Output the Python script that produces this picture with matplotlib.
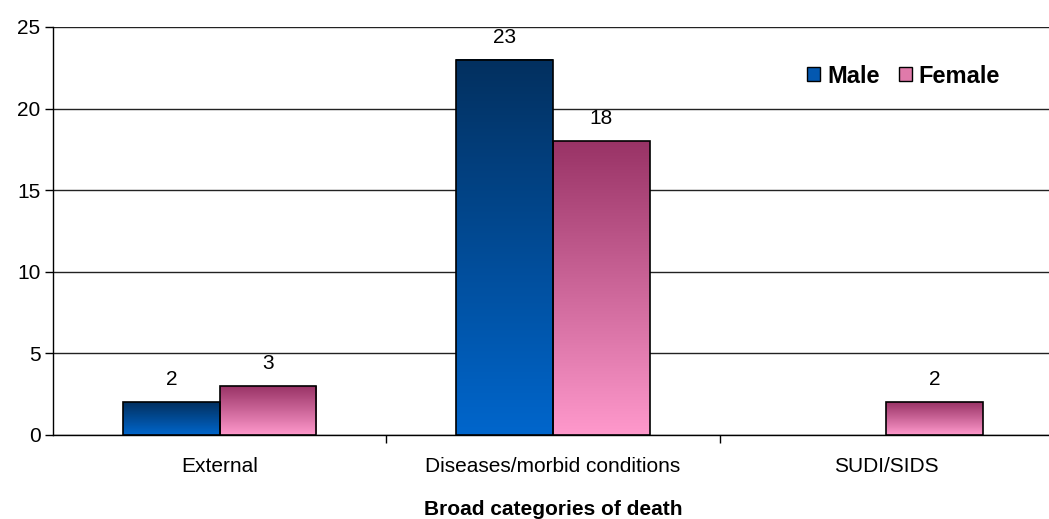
import numpy as np
import matplotlib.pyplot as plt
from matplotlib.colors import LinearSegmentedColormap

plt.rcParams['font.family'] = ['Liberation Sans', 'DejaVu Sans']

# data
categories = ['External', 'Diseases/morbid conditions', 'SUDI/SIDS']
male = [2, 23, 0]
female = [3, 18, 2]
yticks = [0, 5, 10, 15, 20, 25]

# top colour -> bottom colour for each series
male_cols = ('#03305f', '#0066cc')
female_cols = ('#993366', '#ff99cc')

fig = plt.figure(figsize=(10.49, 5.19), dpi=100)
ax = fig.add_axes([53 / 1049, (519 - 435) / 519, 1000 / 1049, 408 / 519])

x = np.arange(len(categories))
w = 0.29


def gradient_bars(xs, vals, cols, label):
    bars = ax.bar(xs, vals, w, color=cols[1], edgecolor='black', linewidth=1.2,
                  label=label, zorder=3)
    cmap = LinearSegmentedColormap.from_list(label, [cols[1], cols[0]])
    grad = np.linspace(0, 1, 256).reshape(-1, 1)
    for b, v in zip(bars, vals):
        if v <= 0:
            b.set_visible(False)
            continue
        x0, y0 = b.get_x(), b.get_y()
        ax.imshow(grad, cmap=cmap, origin='lower', aspect='auto',
                  extent=[x0, x0 + b.get_width(), y0, y0 + b.get_height()],
                  zorder=3.5)
        b.set_facecolor('none')
        b.set_zorder(4)
        ax.text(x0 + b.get_width() / 2, v + 0.8, str(v), ha='center', va='bottom',
                fontsize=15)
    return bars


gradient_bars(x - w / 2, male, male_cols, 'Male')
gradient_bars(x + w / 2, female, female_cols, 'Female')

ax.set_xlim(-0.5, 2.5)
ax.set_ylim(0, 25)
ax.set_yticks(yticks)
ax.yaxis.grid(True, color='#222222', linewidth=1)
ax.set_axisbelow(True)
for s in ['top', 'right']:
    ax.spines[s].set_visible(False)
ax.spines['left'].set_linewidth(1)
ax.spines['bottom'].set_linewidth(1)

ax.set_xticks(x)
ax.set_xticklabels(categories, fontsize=15)
ax.tick_params(axis='x', length=0, pad=16)
ax.set_xticks([0.5, 1.5], minor=True)
ax.tick_params(axis='x', which='minor', length=6, width=1)
ax.tick_params(axis='y', length=6, width=1, labelsize=15, pad=3)

ax.set_xlabel('Broad categories of death', fontsize=15, fontweight='bold', labelpad=17)

handles = [plt.Rectangle((0, 0), 1, 1, facecolor='#0358b0', edgecolor='black'),
           plt.Rectangle((0, 0), 1, 1, facecolor='#e07aaa', edgecolor='black')]
ax.legend(handles, ['Male', 'Female'], loc='upper left', bbox_to_anchor=(0.733, 0.96),
          ncol=2, frameon=False, prop={'weight': 'bold', 'size': 17},
          handlelength=0.55, handleheight=0.55, handletextpad=0.3, columnspacing=0.8)

fig.savefig('out.png', dpi=100)
